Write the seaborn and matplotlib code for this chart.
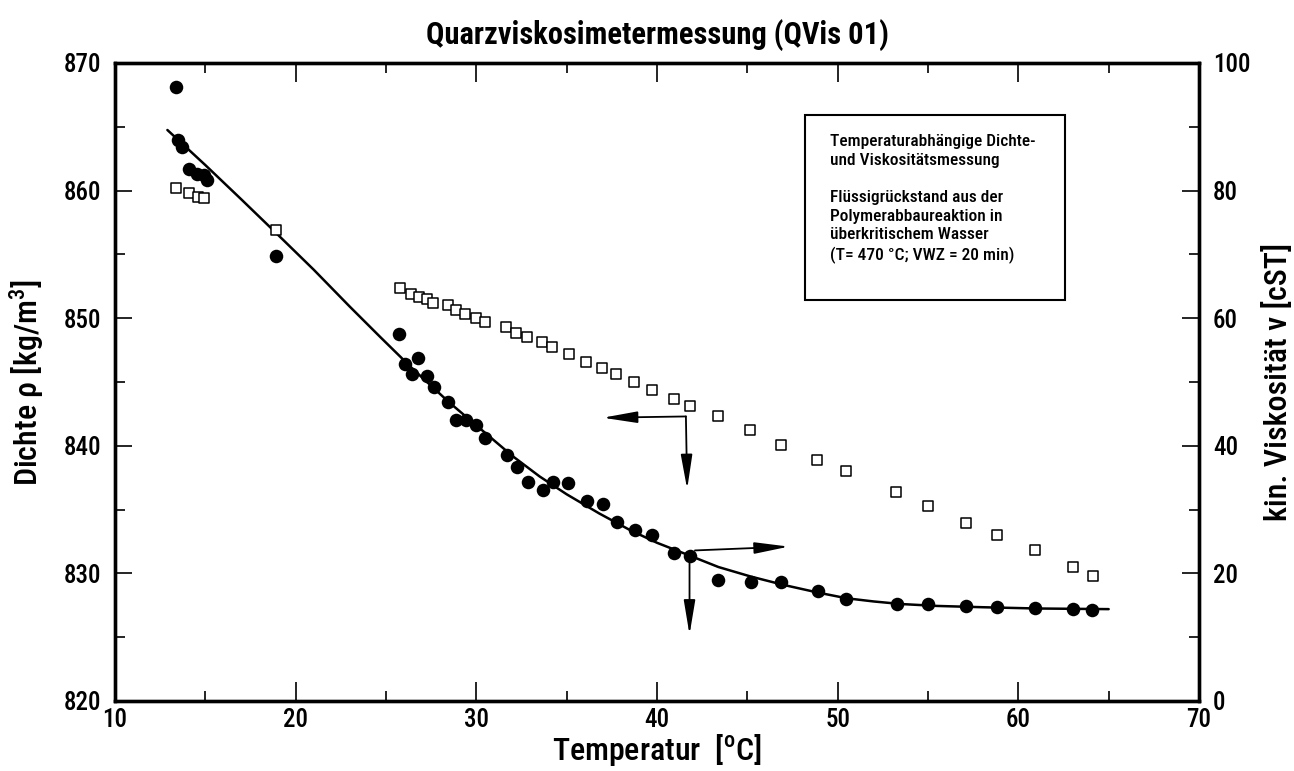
import matplotlib
matplotlib.use("Agg")
import matplotlib.pyplot as plt
from matplotlib.patches import Rectangle
from matplotlib.ticker import MultipleLocator
from matplotlib import font_manager
import seaborn as sns
import pandas as pd

# Dichte (gefüllte Kreise)
temp_rho = [13.4, 13.5, 13.7, 14.1, 14.55, 14.95, 15.1, 18.9,
            25.7, 26.05, 26.45, 26.75, 27.25, 27.65, 28.45, 28.9, 29.45, 30.0, 30.5,
            31.7, 32.25, 32.85, 33.7, 34.25, 35.1, 36.1, 37.0, 37.8, 38.8, 39.75,
            40.95, 41.8, 43.35, 45.2, 46.85, 48.9, 50.45, 53.3, 55.0, 57.1, 58.8,
            60.9, 63.0, 64.1]
rho = [868.1, 864.0, 863.4, 861.7, 861.3, 861.2, 860.8, 854.9,
       848.8, 846.4, 845.6, 846.9, 845.5, 844.6, 843.4, 842.0, 842.0, 841.6, 840.6,
       839.3, 838.3, 837.2, 836.5, 837.2, 837.1, 835.7, 835.4, 834.0, 833.4, 833.0,
       831.6, 831.4, 829.5, 829.35, 829.3, 828.6, 828.0, 827.6, 827.6, 827.45, 827.4,
       827.3, 827.2, 827.1]

# kin. Viskosität (offene Quadrate)
temp_nu = [13.4, 14.1, 14.6, 14.95, 18.9,
           25.75, 26.4, 26.85, 27.25, 27.6, 28.45, 28.85, 29.4, 30.0, 30.5,
           31.65, 32.2, 32.8, 33.65, 34.2, 35.15, 36.05, 36.95, 37.75, 38.75,
           39.75, 40.95, 41.8, 43.35, 45.15, 46.85, 48.85, 50.45, 53.25, 55.0,
           57.1, 58.8, 60.9, 63.0, 64.15]
nu = [80.4, 79.6, 79.0, 78.8, 73.8,
      64.7, 63.8, 63.3, 63.0, 62.4, 62.1, 61.3, 60.6, 60.0, 59.4,
      58.6, 57.7, 57.1, 56.2, 55.5, 54.4, 53.2, 52.2, 51.3, 50.0,
      48.7, 47.3, 46.3, 44.6, 42.4, 40.2, 37.8, 36.05, 32.7, 30.5,
      27.95, 26.0, 23.6, 21.0, 19.6]

# Ausgleichskurve Dichte
fit_t = [12.9, 15.0, 17.0, 18.9, 21.0, 23.0, 24.7, 26.5, 28.5, 30.5, 32.0, 33.5,
         35.0, 36.8, 38.5, 40.0, 41.8, 43.4, 45.2, 47.0, 48.9, 50.5, 52.0, 53.5,
         55.5, 58.0, 61.0, 65.0]
fit_rho = [864.75, 862.0, 859.3, 856.7, 853.8, 850.9, 848.5, 846.0, 843.4, 841.0,
           839.2, 837.6, 836.2, 834.7, 833.4, 832.4, 831.4, 830.5, 829.75, 829.1,
           828.5, 828.05, 827.8, 827.6, 827.45, 827.35, 827.25, 827.2]

box_lines = ["Temperaturabhängige Dichte-", "und Viskositätsmessung", "",
             "Flüssigrückstand aus der", "Polymerabbaureaktion in",
             "überkritischem Wasser", "(T= 470 °C; VWZ = 20 min)"]

sns.set_style("ticks")
installed = {f.name for f in font_manager.fontManager.ttflist}
fam = [f for f in ["Roboto Condensed", "Liberation Sans Narrow", "Roboto", "DejaVu Sans"]
       if f in installed]
narrow = fam[0] in ("Roboto Condensed", "Liberation Sans Narrow")
plt.rcParams["font.family"] = fam
plt.rcParams["font.weight"] = "medium"
plt.rcParams["axes.labelweight"] = "medium"
plt.rcParams["mathtext.fontset"] = "custom"
plt.rcParams["mathtext.rm"] = fam[0] + ":medium"
for k in ["text.color", "axes.labelcolor", "xtick.color", "ytick.color", "axes.edgecolor"]:
    plt.rcParams[k] = "black"

sz_tick = 18 if narrow else 15
sz_lab = 23 if narrow else 19
sz_title = 22 if narrow else 18
sz_box = 12.5 if narrow else 10.5

df_rho = pd.DataFrame({"T": temp_rho, "rho": rho})
df_nu = pd.DataFrame({"T": temp_nu, "nu": nu})
df_fit = pd.DataFrame({"T": fit_t, "rho": fit_rho})

fig = plt.figure(figsize=(12.94, 7.71), dpi=100)
ax = fig.add_axes([115 / 1294, 1 - 701 / 771, (1199 - 115) / 1294, (701 - 63) / 771])
ax2 = ax.twinx()

sns.lineplot(data=df_fit, x="T", y="rho", ax=ax, color="black", lw=1.8, sort=True)
sns.scatterplot(data=df_rho, x="T", y="rho", ax=ax, color="black", s=95,
                edgecolor="black", linewidth=0, zorder=3)
sns.scatterplot(data=df_nu, x="T", y="nu", ax=ax2, marker="s", s=45,
                facecolor="white", edgecolor="black", linewidth=1.1, zorder=3)

ax.set_xlim(10, 70)
ax.set_ylim(820, 870)
ax2.set_ylim(0, 100)
ax.xaxis.set_major_locator(MultipleLocator(10))
ax.xaxis.set_minor_locator(MultipleLocator(5))
ax.yaxis.set_major_locator(MultipleLocator(10))
ax.yaxis.set_minor_locator(MultipleLocator(5))
ax2.yaxis.set_major_locator(MultipleLocator(20))
ax2.yaxis.set_minor_locator(MultipleLocator(10))

for a in (ax, ax2):
    for sp in a.spines.values():
        sp.set_linewidth(2.4)
        sp.set_visible(True)
ax.tick_params(axis="x", which="both", direction="in", top=True, labelsize=sz_tick, pad=5)
ax.tick_params(axis="x", which="major", length=14, width=1.2)
ax.tick_params(axis="x", which="minor", length=7, width=1.2)
ax.tick_params(axis="y", which="both", direction="in", labelsize=sz_tick, pad=10)
ax.tick_params(axis="y", which="major", length=12, width=1.2)
ax.tick_params(axis="y", which="minor", length=7, width=1.2)
ax2.tick_params(axis="y", which="both", direction="in", labelsize=sz_tick, pad=10)
ax2.tick_params(axis="y", which="major", length=12, width=1.2)
ax2.tick_params(axis="y", which="minor", length=7, width=1.2)

ax.set_xlabel(r"Temperatur  [$^{\mathrm{o}}$C]", fontsize=sz_lab, labelpad=0)
ax.set_ylabel(r"Dichte ρ [kg/m$^{3}$]", fontsize=sz_lab, labelpad=12)
ax2.set_ylabel("kin. Viskosität ν [cST]", fontsize=sz_lab, labelpad=8)
ax.set_title("Quarzviskosimetermessung (QVis 01)", fontsize=sz_title,
             fontweight="bold", pad=14)

# Pfeile
arr = dict(arrowstyle="-|>,head_length=1.5,head_width=0.25", color="black",
           lw=1.3, shrinkA=0, shrinkB=0, mutation_scale=14)
ax.annotate("", xy=(37.0, 842.2), xytext=(41.6, 842.3), arrowprops=arr)
ax.annotate("", xy=(41.67, 836.6), xytext=(41.6, 842.3), arrowprops=arr)
ax.annotate("", xy=(47.3, 832.1), xytext=(42.1, 831.8), arrowprops=arr)
ax.annotate("", xy=(41.8, 825.2), xytext=(41.8, 831.3), arrowprops=arr)

# Textkasten
ax.add_patch(Rectangle((48.2, 851.4), 14.4, 14.5, fill=False, lw=1.5,
                       edgecolor="black", zorder=4))
ax.text(49.6, 864.4, "\n".join(box_lines), fontsize=sz_box, va="top", ha="left",
        linespacing=1.3, zorder=5)

fig.savefig("out.png", dpi=100)
